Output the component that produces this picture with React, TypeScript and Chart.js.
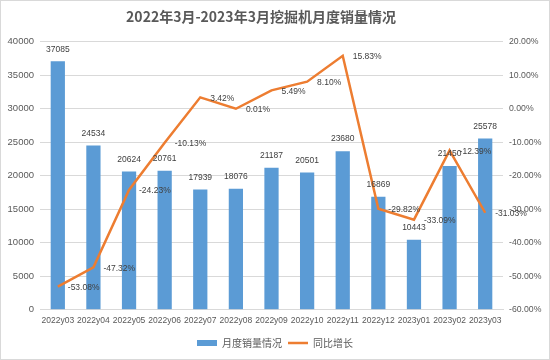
import React, { useEffect, useRef } from "react";
import { Chart, registerables } from "chart.js";

Chart.register(...registerables);

const TITLE = "2022年3月-2023年3月挖掘机月度销量情况";
const categories = [
  "2022y03", "2022y04", "2022y05", "2022y06", "2022y07", "2022y08", "2022y09",
  "2022y10", "2022y11", "2022y12", "2023y01", "2023y02", "2023y03",
];
const salesValues = [37085, 24534, 20624, 20761, 17939, 18076, 21187, 20501, 23680, 16869, 10443, 21450, 25578];
const growthValues = [-53.08, -47.32, -24.23, -10.13, 3.42, 0.01, 5.49, 8.1, 15.83, -29.82, -33.09, -12.39, -31.03];
const salesLabel = "月度销量情况";
const growthLabel = "同比增长";

const FONT = "'Liberation Sans', Arial, sans-serif";
const CJK = "'Noto Sans CJK SC', sans-serif";
const GREY = "#595959";
const LABEL = "#404040";

const bgPlugin = {
  id: "bgBorder",
  beforeDraw(chart: any) {
    const ctx = chart.ctx;
    ctx.save();
    ctx.fillStyle = "#ffffff";
    ctx.fillRect(0, 0, chart.width, chart.height);
    ctx.strokeStyle = "#D9D9D9";
    ctx.lineWidth = 1;
    ctx.strokeRect(0.5, 0.5, chart.width - 1, chart.height - 1);
    ctx.restore();
  },
};

const titlePlugin = {
  id: "shiftedTitle",
  afterDraw(chart: any) {
    const ctx = chart.ctx;
    const t = chart.titleBlock;
    ctx.save();
    ctx.font = `bold 14px ${CJK}`;
    ctx.fillStyle = GREY;
    ctx.textAlign = "center";
    ctx.textBaseline = "middle";
    ctx.fillText(TITLE, chart.width / 2 - 14, (t.top + t.bottom) / 2 - 4);
    ctx.restore();
  },
};

const labelPlugin = {
  id: "valueLabels",
  afterDatasetsDraw(chart: any) {
    const ctx = chart.ctx;
    ctx.save();
    ctx.font = `8.5px ${FONT}`;
    ctx.fillStyle = LABEL;
    chart.data.datasets.forEach((ds: any, di: number) => {
      const meta = chart.getDatasetMeta(di);
      meta.data.forEach((el: any, i: number) => {
        const v = ds.data[i];
        if (ds.type === "bar") {
          ctx.textAlign = "center";
          ctx.textBaseline = "middle";
          ctx.fillText(String(v), el.x, el.y - 12);
        } else {
          ctx.textAlign = "left";
          ctx.textBaseline = "middle";
          ctx.fillText(v.toFixed(2) + "%", el.x + 10, el.y + 1);
        }
      });
    });
    ctx.restore();
  },
};

export default function App() {
  const ref = useRef<HTMLCanvasElement>(null);
  useEffect(() => {
    if (!ref.current) return;
    const chart = new Chart(ref.current, {
      type: "bar",
      data: {
        labels: categories,
        datasets: [
          {
            type: "line",
            label: growthLabel,
            data: growthValues,
            yAxisID: "y1",
            borderColor: "#ED7D31",
            backgroundColor: "#ED7D31",
            borderWidth: 2.5,
            pointRadius: 0,
            pointStyle: "line",
            tension: 0,
          } as any,
          {
            type: "bar",
            label: salesLabel,
            data: salesValues,
            yAxisID: "y",
            backgroundColor: "#5B9BD5",
            borderWidth: 0,
            barPercentage: 1,
            categoryPercentage: 0.4,
            pointStyle: "rect",
          } as any,
        ],
      },
      options: {
        responsive: false,
        animation: false,
        devicePixelRatio: 1,
        layout: { padding: { left: 0, right: 0, top: 0, bottom: 2 } },
        plugins: {
          title: {
            display: true,
            text: TITLE,
            color: "rgba(0,0,0,0)",
            font: { family: CJK, size: 14, weight: "bold" },
            padding: { top: 10, bottom: 15 },
          },
          legend: {
            position: "bottom",
            labels: {
              usePointStyle: true,
              pointStyleWidth: 20,
              boxHeight: 6,
              color: GREY,
              font: { family: CJK, size: 10 },
              padding: 6,
              sort: (a: any, b: any) => b.datasetIndex - a.datasetIndex,
            },
          },
          tooltip: { enabled: false },
        },
        scales: {
          x: {
            grid: { display: false, drawTicks: false },
            border: { color: "#D9D9D9" },
            ticks: { color: GREY, font: { family: FONT, size: 8.5 }, padding: 6, maxRotation: 0, autoSkip: false },
          },
          y: {
            position: "left",
            min: 0,
            max: 40000,
            grid: { color: "#D9D9D9", drawTicks: false },
            border: { display: false },
            ticks: { stepSize: 5000, color: GREY, font: { family: FONT, size: 9.5 }, padding: 6, callback: (v: any) => String(v) },
            afterFit: (s: any) => { s.width = 40; },
          },
          y1: {
            position: "right",
            min: -60,
            max: 20,
            grid: { display: false, drawTicks: false },
            border: { display: false },
            ticks: { stepSize: 10, color: GREY, font: { family: FONT, size: 8.7 }, padding: 6, callback: (v: any) => Number(v).toFixed(2) + "%" },
            afterFit: (s: any) => { s.width = 47; },
          },
        },
      },
      plugins: [bgPlugin, labelPlugin, titlePlugin],
    } as any);
    return () => chart.destroy();
  }, []);
  return (
    <div style={{ position: "absolute", left: 0, top: 0, width: 550, height: 360 }}>
      <canvas ref={ref} width={550} height={360} />
    </div>
  );
}
